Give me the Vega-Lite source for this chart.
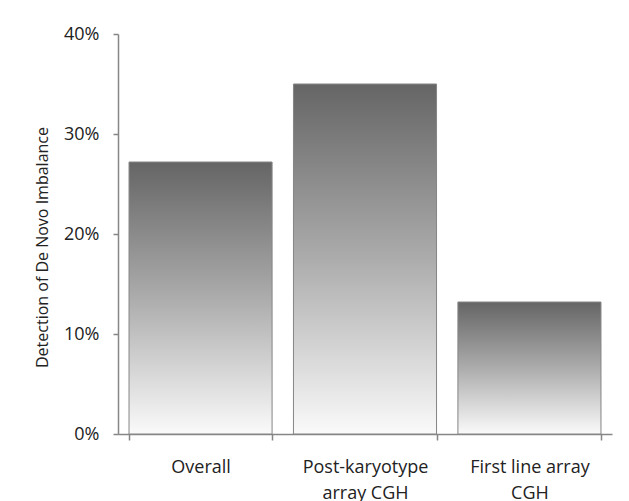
{
  "$schema": "https://vega.github.io/schema/vega-lite/v6.json",
  "width": 494,
  "height": 400,
  "autosize": "none",
  "padding": {"left": 118, "top": 34, "right": 17, "bottom": 67},
  "background": "white",
  "config": {
    "view": {"stroke": null},
    "font": "Open Sans"
  },
  "data": {
    "values": [
      {"group": "Overall", "rate": 0.272},
      {"group": "Post-karyotype|array CGH", "rate": 0.35},
      {"group": "First line array|CGH", "rate": 0.132}
    ]
  },
  "mark": {
    "type": "bar",
    "stroke": "#858585",
    "strokeWidth": 1,
    "color": {
      "gradient": "linear",
      "x1": 0, "y1": 0, "x2": 0, "y2": 1,
      "stops": [
        {"offset": 0, "color": "#656565"},
        {"offset": 0.5, "color": "#acacac"},
        {"offset": 1, "color": "#fafafa"}
      ]
    }
  },
  "encoding": {
    "x": {
      "field": "group",
      "type": "nominal",
      "sort": null,
      "scale": {"paddingInner": 0.13, "paddingOuter": 0.067},
      "axis": {
        "title": null,
        "labelAngle": 0,
        "labelExpr": "split(datum.label, '|')",
        "labelFont": "Open Sans",
        "labelFontSize": 18,
        "labelColor": "#222222",
        "labelPadding": 18,
        "labelLineHeight": 26,
        "tickBand": "extent",
        "tickSize": 6,
        "tickColor": "#868686",
        "domainColor": "#868686",
        "domainWidth": 1.5,
        "tickWidth": 1.5
      }
    },
    "y": {
      "field": "rate",
      "type": "quantitative",
      "scale": {"domain": [0, 0.4]},
      "axis": {
        "title": "Detection of De Novo Imbalance",
        "titleFont": "Open Sans",
        "titleFontSize": 16,
        "titleFontWeight": "normal",
        "titleColor": "#222222",
        "titlePadding": 13,
        "titleY": 213,
        "titleAlign": "center",
        "format": ".0%",
        "values": [0, 0.1, 0.2, 0.3, 0.4],
        "grid": false,
        "labelFont": "Open Sans",
        "labelFontSize": 18,
        "labelColor": "#222222",
        "labelPadding": 14,
        "tickSize": 5,
        "tickColor": "#868686",
        "domainColor": "#868686",
        "domainWidth": 1.5,
        "tickWidth": 1.5
      }
    }
  }
}
